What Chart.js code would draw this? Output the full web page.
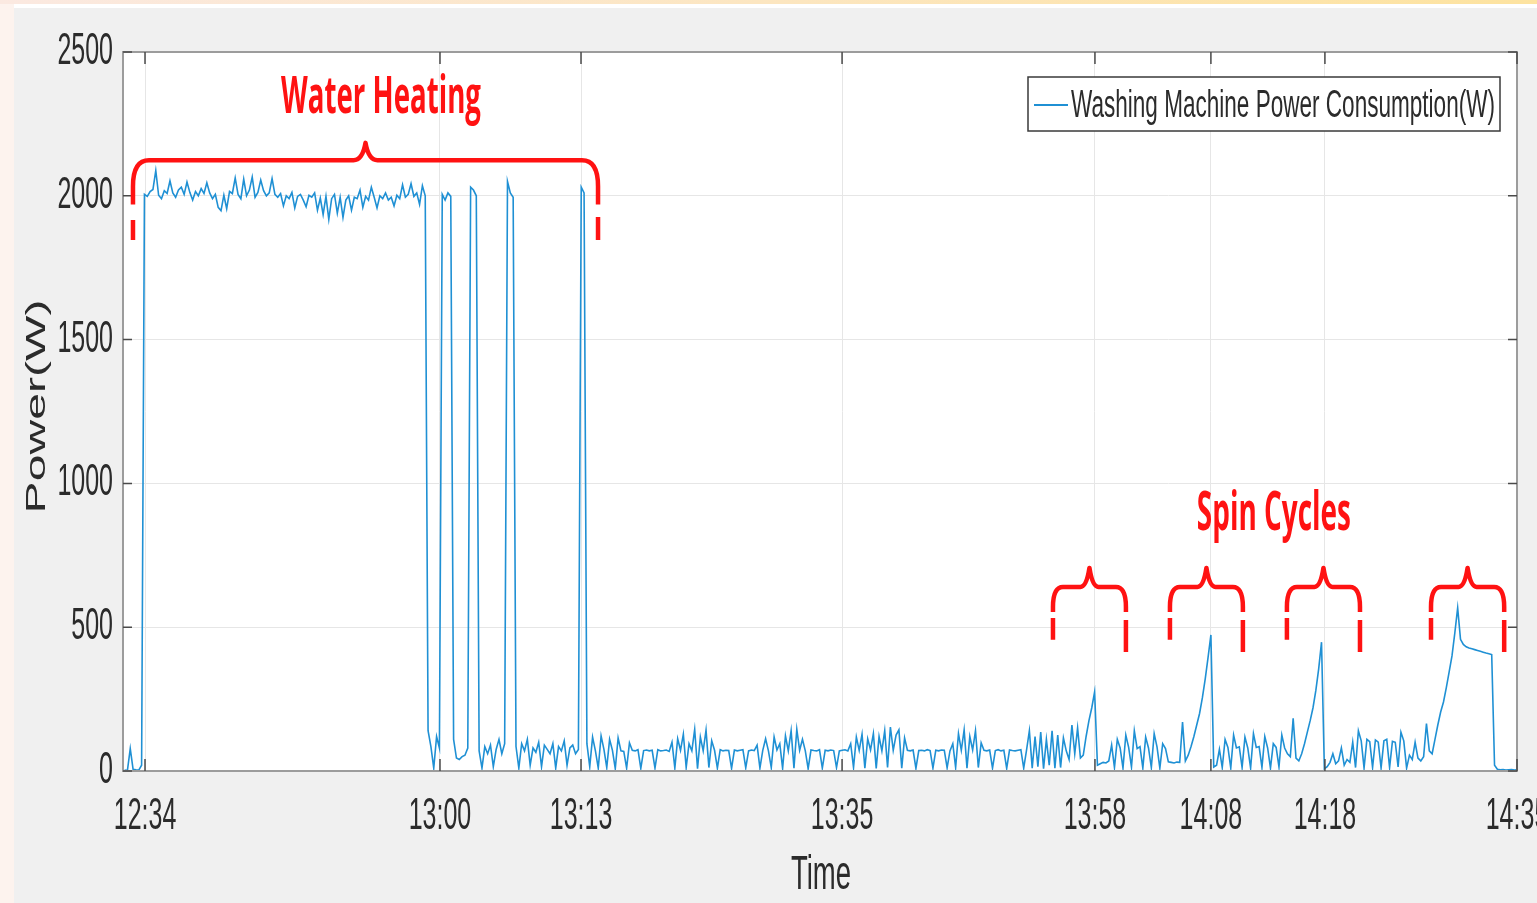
<!DOCTYPE html>
<html>
<head>
<meta charset="utf-8">
<title>Washing Machine Power Consumption</title>
<script src="https://cdn.jsdelivr.net/npm/chart.js@4.4.1/dist/chart.umd.min.js"></script>
<style>
  html, body { margin: 0; padding: 0; background: #fdf3ee; overflow: hidden; }
  #wrap { position: absolute; left: 0; top: 0; width: 1537px; height: 903px; }
</style>
</head>
<body>
<div id="wrap"><canvas id="powerChart" width="1537" height="903"></canvas></div>
<script>
// --- Meter log: one reading every 15 s, times in minutes after midnight ---
const startMinute = 752.2;      // 12:32:12
const stepMinutes = 0.25;

// machine idle before the heater switches on
const idleReadings = [3, 2, 78, 6, 4, 3, 20];

// heater running flat out
const heatingReadings = [
  2005, 1998, 2015, 2022, 2088, 2002, 1990, 2018, 2008, 2052,
  2010, 1995, 2020, 2030, 2005, 2048, 2012, 1985, 2015, 2000,
  2025, 2008, 2045, 2010, 1990, 2005, 1960, 1948, 2002, 1955,
  2015, 2008, 2062, 2005, 1990, 2058, 2000, 2020, 2065, 1995,
  2012, 2055, 2018, 2000, 2010, 2060, 2005, 1995, 2008, 1965,
  2000, 1990, 2012, 1958, 1998, 2005, 1985, 1962, 2002, 1995,
  2010, 1950, 1992, 1935, 1998, 1918, 1990, 2005, 1940, 1995,
  1925, 1985, 2000, 1950, 1995, 1990, 2020, 1960, 1998, 1985,
  2030, 1995, 1958, 2000, 1990, 2010, 1985, 1995, 1965, 2002,
  1990, 2038, 1995, 2005, 2042, 1998, 2010, 1970, 2035, 2000
];

// thermostat top-ups, then drum washing
const washReadings = [
  140, 85, 10, 120, 80,
  2005, 1985, 2010, 1998,
  110, 45, 40, 50, 55, 80,
  2030, 2020, 2000,
  70, 10, 85, 60, 90, 15, 75, 110, 60, 95,
  2050, 2010, 1995,
  85, 10, 95, 70, 110, 20, 80, 65, 100, 15, 90, 75, 60, 95, 10, 85, 70, 105, 20, 80, 90, 60, 75,
  2030, 2010,
  95, 15, 118, 70, 10, 122, 75, 12, 110, 72,
  8, 115, 70, 68, 10, 98, 72, 70, 74, 9,
  71, 73, 70, 72, 10, 74, 70, 71, 73, 68,
  100, 10, 112, 72, 128, 12, 95, 70, 145, 8,
  118, 70, 142, 12, 105, 72, 10, 74, 70, 72,
  71, 9, 73, 70, 72, 74, 11, 70, 73, 71,
  90, 10, 72, 112, 70, 12, 118, 73, 95, 9,
  122, 70, 140, 10, 145, 72, 110, 70, 8, 73,
  71, 70, 74, 10, 72, 70, 73, 71, 12, 70,
  72, 74, 70, 95, 12, 118, 72, 128, 10, 112,
  73, 130, 9, 120, 70, 140, 12, 153, 72, 125,
  143, 10, 115, 72, 70, 73, 9, 71, 72, 70,
  74, 71, 10, 72, 70, 73, 72, 11, 70, 95,
  12, 130, 72, 143, 10, 120, 73, 140, 12, 98,
  72, 70, 73, 10, 71, 74, 70, 72, 9, 73,
  71, 70, 72, 74, 10, 73
];

// rinsing and the four spin ramps
const spinReadings = [
  140, 10, 120, 15, 135, 8, 110, 20, 140, 10, 125, 12, 115,
  70, 40, 160, 60, 150, 45,
  55, 120, 175, 220, 275,
  20, 25, 30, 28, 35,
  90, 12, 110, 80, 10, 125, 82, 14, 140, 78, 85, 10, 118, 80, 12, 130, 84, 10, 95, 78,
  32, 30, 28, 31, 30, 170, 35,
  55, 85, 120, 160, 200, 255, 320, 395, 473,
  14, 20, 75, 12, 110, 82, 10, 125, 80, 84, 12, 118, 80, 10, 130, 82, 85, 12, 120, 80, 10, 95, 82, 14, 125, 80, 60,
  50, 183, 45,
  35, 60, 95, 135, 175, 220, 280, 355, 448,
  8, 15, 30, 60, 25, 35, 80, 20, 40, 30,
  100, 12, 140, 105, 10, 110, 102, 12, 108, 100, 10, 105, 110, 12, 103, 100, 14, 135, 105, 10,
  55, 40, 100, 45, 35, 50, 165, 70,
  60, 110, 160, 205, 240, 290, 345, 400, 480, 567,
  458, 440, 432, 428, 425, 422, 419, 416, 413, 410, 408, 405,
  20, 6, 4, 5, 3, 4, 5, 3, 4
];

// axis ticks
const timeTickMinutes = [754, 780, 792.43, 815.44, 837.73, 847.95, 858.0, 874.93];
const timeTickLabels = ['12:34', '13:00', '13:13', '13:35', '13:58', '14:08', '14:18', '14:35'];
const powerTicks = [0, 500, 1000, 1500, 2000, 2500];

// annotation braces: time span (min), bar level / notch / solid end (W), dash ranges (W)
const heatingBrace = { from: 752.94, to: 793.93, level: 2124, notch: 2184, solidTo: 1970,
  leftDash: [1916, 1846], rightDash: [1926, 1846], rx: 16, ry: 26, leg: 12 };
const spinBraceSpans = [[834.03, 840.46], [844.34, 850.77], [854.65, 861.09], [867.35, 873.80]];

const SERIES_BLUE = '#1f90d4';
const NOTE_RED = '#ff1212';
const TEXT_GREY = '#2b2b2b';
const FONT = '"Liberation Sans", Arial, sans-serif';
const STRETCH = 1.75; // tall, narrow lettering of the figure

const readings = idleReadings.concat(heatingReadings, washReadings, spinReadings);
const points = readings.map((w, i) => ({ x: startMinute + i * stepMinutes, y: w }));

// --- Drawing helpers ---
function stretchText(ctx, text, x, y, font, align, opts = {}) {
    ctx.save();
    ctx.translate(x, y);
    if (opts.rotate) ctx.rotate(opts.rotate);
    ctx.scale(opts.sx || 1, opts.sy || STRETCH);
    ctx.font = font;
    ctx.fillStyle = opts.color || TEXT_GREY;
    ctx.textAlign = align;
    ctx.textBaseline = opts.baseline || 'middle';
    ctx.fillText(text, 0, 0);
    ctx.restore();
}

// bold red label squeezed to a given width and cap height
function noteText(ctx, text, cx, baseline, width, capHeight) {
    const size = 40;
    ctx.save();
    ctx.font = 'bold ' + size + 'px "Open Sans", sans-serif';
    const w = ctx.measureText(text).width;
    ctx.translate(cx, baseline);
    ctx.scale(width / w, capHeight / (0.714 * size));
    ctx.fillStyle = NOTE_RED;
    ctx.textAlign = 'center';
    ctx.textBaseline = 'alphabetic';
    ctx.fillText(text, 0, 0);
    ctx.restore();
}

function drawBrace(ctx, xs, ys, b) {
    const left = xs.getPixelForValue(b.from);
    const right = xs.getPixelForValue(b.to);
    const cx = (left + right) / 2;
    const top = ys.getPixelForValue(b.level);
    const peak = ys.getPixelForValue(b.notch);
    const end = ys.getPixelForValue(b.solidTo);
    ctx.save();
    ctx.strokeStyle = NOTE_RED;
    ctx.lineWidth = 4.5;
    ctx.lineJoin = 'round';
    ctx.beginPath();
    ctx.moveTo(left, end);
    ctx.lineTo(left, top + b.ry);
    ctx.quadraticCurveTo(left, top, left + b.rx, top);
    ctx.lineTo(cx - b.leg, top);
    ctx.quadraticCurveTo(cx - 3, top, cx, peak);
    ctx.quadraticCurveTo(cx + 3, top, cx + b.leg, top);
    ctx.lineTo(right - b.rx, top);
    ctx.quadraticCurveTo(right, top, right, top + b.ry);
    ctx.lineTo(right, end);
    ctx.stroke();
    ctx.beginPath();
    ctx.moveTo(left, ys.getPixelForValue(b.leftDash[0]));
    ctx.lineTo(left, ys.getPixelForValue(b.leftDash[1]));
    ctx.moveTo(right, ys.getPixelForValue(b.rightDash[0]));
    ctx.lineTo(right, ys.getPixelForValue(b.rightDash[1]));
    ctx.stroke();
    ctx.restore();
}

// --- Plugins ---
const pageBackground = {
    id: 'pageBackground',
    beforeDraw(chart) {
        const { ctx, width, height, chartArea: a } = chart;
        ctx.save();
        ctx.fillStyle = '#fdf3ee';
        ctx.fillRect(0, 0, width, height);
        const g = ctx.createLinearGradient(0, 0, width, 0);
        g.addColorStop(0, '#fbe9e1');
        g.addColorStop(1, '#fde3a0');
        ctx.fillStyle = g;
        ctx.fillRect(0, 0, width, 4);
        ctx.fillStyle = '#ffffff';
        ctx.fillRect(14, 4, width - 14, 4);
        ctx.fillStyle = '#f0f0f0';
        ctx.fillRect(14, 8, width - 14, height - 8);
        ctx.fillStyle = '#ffffff';
        ctx.fillRect(a.left, a.top, a.right - a.left, a.bottom - a.top);
        ctx.restore();
    }
};

const axesBox = {
    id: 'axesBox',
    afterDatasetsDraw(chart) {
        const { ctx, chartArea: a, scales: { x, y } } = chart;
        ctx.save();
        ctx.strokeStyle = '#9c9c9c';
        ctx.lineWidth = 2;
        ctx.strokeRect(a.left, a.top, a.right - a.left, a.bottom - a.top);

        // inward tick marks on all four sides
        ctx.strokeStyle = '#4a4a4a';
        ctx.lineWidth = 1.5;
        ctx.beginPath();
        timeTickMinutes.forEach(t => {
            const px = x.getPixelForValue(t);
            ctx.moveTo(px, a.top); ctx.lineTo(px, a.top + 12);
            ctx.moveTo(px, a.bottom); ctx.lineTo(px, a.bottom - 12);
        });
        powerTicks.forEach(w => {
            const py = y.getPixelForValue(w);
            ctx.moveTo(a.left, py); ctx.lineTo(a.left + 9, py);
            ctx.moveTo(a.right, py); ctx.lineTo(a.right - 9, py);
        });
        ctx.stroke();
        ctx.restore();

        const tickFont = '25px ' + FONT;
        powerTicks.forEach(w => {
            stretchText(ctx, String(w), a.left - 10, y.getPixelForValue(w), tickFont, 'right');
        });
        timeTickMinutes.forEach((t, i) => {
            stretchText(ctx, timeTickLabels[i], x.getPixelForValue(t), a.bottom + 46, tickFont, 'center');
        });

        const titleFont = '27.5px ' + FONT;
        stretchText(ctx, 'Time', (a.left + a.right) / 2 + 1, a.bottom + 105, titleFont, 'center');
        stretchText(ctx, 'Power(W)', 37, (a.top + a.bottom) / 2 - 5, titleFont, 'center',
            { rotate: -Math.PI / 2, sx: STRETCH, sy: 1 });
    },
    afterDraw(chart) {
        const { ctx, scales: { x, y } } = chart;
        const ds = chart.data.datasets[0];

        // legend
        ctx.save();
        ctx.fillStyle = '#ffffff';
        ctx.fillRect(1028, 77, 472, 54);
        ctx.strokeStyle = '#3a3a3a';
        ctx.lineWidth = 1.5;
        ctx.strokeRect(1028, 77, 472, 54);
        ctx.strokeStyle = ds.borderColor;
        ctx.lineWidth = 2;
        ctx.beginPath();
        ctx.moveTo(1034, 105);
        ctx.lineTo(1068, 105);
        ctx.stroke();
        ctx.restore();
        ctx.save();
        ctx.font = '22.5px ' + FONT;
        const lw = ctx.measureText(ds.label).width;
        ctx.restore();
        stretchText(ctx, ds.label, 1071, 106, '22.5px ' + FONT, 'left', { sx: 424 / lw });

        // annotations
        drawBrace(ctx, x, y, heatingBrace);
        spinBraceSpans.forEach(([from, to]) => {
            drawBrace(ctx, x, y, {
                from, to, level: 640, notch: 706, solidTo: 553,
                leftDash: [532, 456], rightDash: [525, 414], rx: 10, ry: 20, leg: 9
            });
        });
        noteText(ctx, 'Water Heating', x.getPixelForValue(774.8), y.getPixelForValue(2288), 200, 37);
        noteText(ctx, 'Spin Cycles', x.getPixelForValue(853.5), y.getPixelForValue(838), 154, 38);
    }
};

// --- Chart ---
const ctxPower = document.getElementById('powerChart').getContext('2d');
new Chart(ctxPower, {
    type: 'line',
    data: {
        datasets: [{
            label: 'Washing Machine Power Consumption(W)',
            data: points,
            borderColor: SERIES_BLUE,
            borderWidth: 1.6,
            pointRadius: 0,
            tension: 0,
            fill: false
        }]
    },
    options: {
        responsive: false,
        animation: false,
        layout: { padding: { left: 123, right: 20, top: 52, bottom: 132 } },
        plugins: {
            legend: { display: false },
            tooltip: { enabled: false }
        },
        scales: {
            x: {
                type: 'linear',
                min: 752.06,
                max: 874.93,
                afterBuildTicks: s => { s.ticks = timeTickMinutes.map(v => ({ value: v })); },
                afterFit: s => { s.height = 0; },
                ticks: { display: false },
                grid: { color: '#e6e6e6', lineWidth: 1, drawTicks: false },
                border: { display: false }
            },
            y: {
                min: 0,
                max: 2500,
                afterBuildTicks: s => { s.ticks = powerTicks.map(v => ({ value: v })); },
                afterFit: s => { s.width = 0; },
                ticks: { display: false },
                grid: { color: '#e6e6e6', lineWidth: 1, drawTicks: false },
                border: { display: false }
            }
        }
    },
    plugins: [pageBackground, axesBox]
});
</script>
</body>
</html>
